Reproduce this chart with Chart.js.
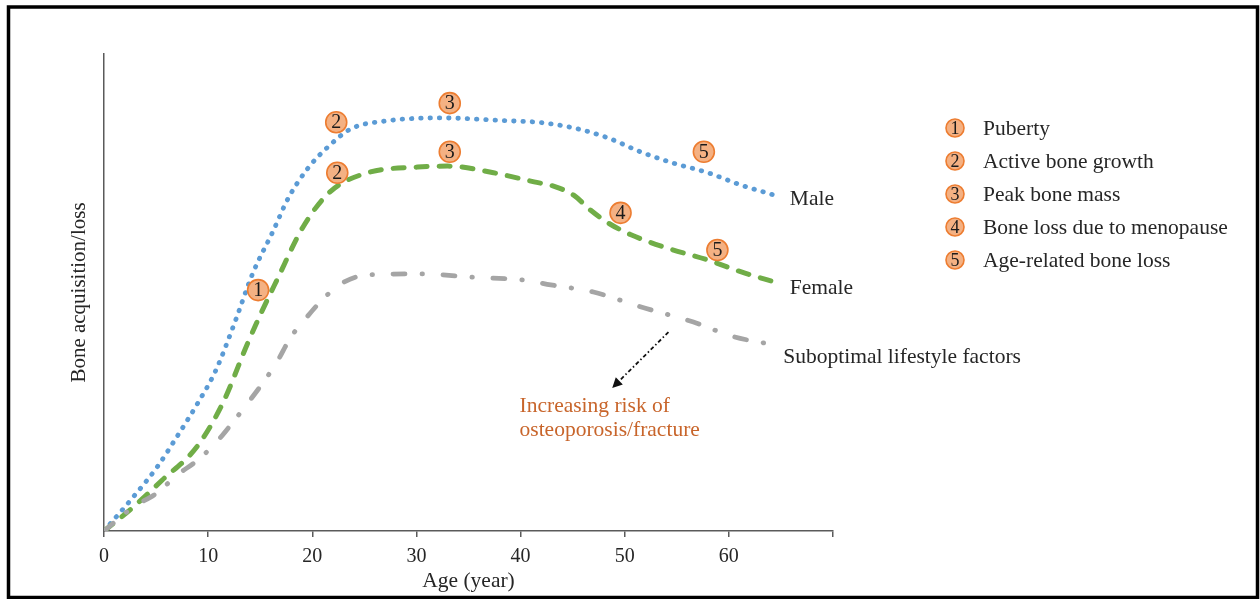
<!DOCTYPE html>
<html>
<head>
<meta charset="utf-8">
<script src="https://cdn.jsdelivr.net/npm/chart.js@4"></script>
<style>
html,body{margin:0;padding:0;background:#fff;}
#wrap{width:1260px;height:599px;position:relative;}
</style>
</head>
<body>
<div id="wrap"><canvas id="c" width="1260" height="599"></canvas></div>
<script>
// ---- data ----
const xTickValues = [0, 10, 20, 30, 40, 50, 60, 70];

const maleAge   = [0, 2.8, 5.1, 7.1, 9.0, 10.7, 12.4, 14.3, 16.2, 17.7, 19.6, 21.5, 23.7, 27.2, 32.3, 38.8, 41.6, 45.1, 48.4, 51.5, 54.7, 58.0, 61.2, 64.7];
const maleValue = [0, 7.1, 13.4, 20.1, 26.8, 33.5, 42.8, 54.1, 62.7, 69.8, 76.1, 80.5, 84.3, 86.0, 86.6, 86.0, 85.7, 84.5, 82.4, 79.5, 77.1, 75.1, 72.5, 70.2];

const femaleAge   = [0, 2.8, 5.6, 8.9, 11.4, 13.8, 15.0, 16.6, 19.1, 21.7, 25.3, 30.1, 33.0, 37.4, 41.3, 43.3, 45.1, 46.7, 48.4, 50.6, 54.1, 58.0, 61.2, 64.7];
const femaleValue = [0, 5.0, 10.7, 17.6, 26.8, 39.4, 45.3, 52.6, 63.7, 71.1, 75.1, 76.3, 76.5, 75.1, 73.2, 72.2, 70.4, 67.3, 64.6, 62.1, 59.3, 56.8, 54.3, 52.0];

const lifestyleAge   = [0, 2.8, 5.1, 7.0, 8.9, 10.7, 12.3, 13.8, 15.3, 16.6, 17.9, 19.5, 21.1, 22.9, 25.3, 30.4, 35.5, 40.3, 42.9, 47.0, 51.5, 56.6, 60.5, 63.4];
const lifestyleValue = [0, 5.0, 8.0, 11.7, 14.7, 18.4, 22.6, 26.8, 31.2, 35.4, 40.5, 44.9, 48.8, 52.0, 53.7, 53.9, 53.2, 52.6, 51.6, 50.1, 47.0, 43.8, 40.7, 39.4];

const seriesNames = ['Male', 'Female', 'Suboptimal lifestyle factors'];

const markerAge    = [14.8, 22.3, 22.4, 33.2, 33.2, 49.6, 57.6, 58.9];
const markerValue  = [50.5, 85.7, 75.1, 89.7, 79.5, 66.7, 79.5, 58.9];
const markerNumber = [1, 2, 2, 3, 3, 4, 5, 5];

const legendNumbers = [1, 2, 3, 4, 5];
const legendTexts = ['Puberty', 'Active bone growth', 'Peak bone mass', 'Bone loss due to menopause', 'Age-related bone loss'];

const riskLines = ['Increasing risk of', 'osteoporosis/fracture'];
const riskArrowFrom = [54.2, 41.7];
const riskArrowTo   = [48.8, 30.0];
const riskTextAt    = [39.9, 26.2];

// ---- build ----
const pts = (xs, ys) => xs.map((v, i) => ({x: v, y: ys[i]}));
const SERIF = '"Liberation Serif", "Times New Roman", serif';
const TEXT = '#262626';
const AXIS = '#5a5a5a';
const LABEL_SIZE = 21.5;

const overlay = {
  id: 'overlay',
  afterDraw(chart) {
    const {ctx, scales: {x, y}} = chart;
    ctx.save();
    // frame
    ctx.strokeStyle = '#000';
    ctx.lineWidth = 3.5;
    ctx.setLineDash([]);
    ctx.strokeRect(8.5, 7, 1249, 590.5);

    // marker numbers
    ctx.fillStyle = '#1a1a1a';
    ctx.textAlign = 'center';
    ctx.textBaseline = 'middle';
    ctx.font = '20px ' + SERIF;
    markerNumber.forEach((n, i) => {
      ctx.fillText(String(n), x.getPixelForValue(markerAge[i]), y.getPixelForValue(markerValue[i]) + 1);
    });

    // series end labels
    ctx.font = LABEL_SIZE + 'px ' + SERIF;
    ctx.textAlign = 'left';
    ctx.fillStyle = TEXT;
    const ends = [
      [maleAge, maleValue, 12, 3],
      [femaleAge, femaleValue, 12, 5],
      [lifestyleAge, lifestyleValue, 19, 14]
    ];
    ends.forEach((e, i) => {
      const xs = e[0], ys = e[1];
      const px = x.getPixelForValue(xs[xs.length - 1]);
      const py = y.getPixelForValue(ys[ys.length - 1]);
      ctx.fillText(seriesNames[i], px + e[2], py + e[3]);
    });

    // legend
    legendNumbers.forEach((n, i) => {
      const cy = 128 + i * 33;
      ctx.beginPath();
      ctx.arc(955, cy, 9, 0, Math.PI * 2);
      ctx.fillStyle = '#F4B183';
      ctx.fill();
      ctx.lineWidth = 1.6;
      ctx.strokeStyle = '#ED7D31';
      ctx.stroke();
      ctx.fillStyle = '#1a1a1a';
      ctx.textAlign = 'center';
      ctx.font = '18px ' + SERIF;
      ctx.fillText(String(n), 955, cy + 1);
      ctx.textAlign = 'left';
      ctx.fillStyle = TEXT;
      ctx.font = LABEL_SIZE + 'px ' + SERIF;
      ctx.fillText(legendTexts[i], 983, cy + 1);
    });

    // arrow
    const ax1 = x.getPixelForValue(riskArrowFrom[0]), ay1 = y.getPixelForValue(riskArrowFrom[1]);
    const ax2 = x.getPixelForValue(riskArrowTo[0]),   ay2 = y.getPixelForValue(riskArrowTo[1]);
    const ang = Math.atan2(ay2 - ay1, ax2 - ax1);
    const headLen = 10;
    const bx = ax2 - Math.cos(ang) * headLen, by = ay2 - Math.sin(ang) * headLen;
    ctx.strokeStyle = '#111';
    ctx.lineWidth = 1.8;
    ctx.setLineDash([4, 2.5, 1.5, 2.5]);
    ctx.beginPath();
    ctx.moveTo(ax1, ay1);
    ctx.lineTo(bx, by);
    ctx.stroke();
    ctx.setLineDash([]);
    ctx.fillStyle = '#111';
    ctx.beginPath();
    ctx.moveTo(ax2, ay2);
    ctx.lineTo(bx + Math.cos(ang + Math.PI / 2) * 5, by + Math.sin(ang + Math.PI / 2) * 5);
    ctx.lineTo(bx + Math.cos(ang - Math.PI / 2) * 5, by + Math.sin(ang - Math.PI / 2) * 5);
    ctx.closePath();
    ctx.fill();

    // risk text
    ctx.fillStyle = '#C8652B';
    ctx.font = LABEL_SIZE + 'px ' + SERIF;
    ctx.textAlign = 'left';
    const tx = x.getPixelForValue(riskTextAt[0]), ty = y.getPixelForValue(riskTextAt[1]);
    riskLines.forEach((t, i) => ctx.fillText(t, tx, ty + i * 24));
    ctx.restore();
  }
};

new Chart(document.getElementById('c'), {
  type: 'line',
  data: {
    datasets: [
      {
        label: 'Markers',
        data: pts(markerAge, markerValue),
        showLine: false,
        pointRadius: 10.5,
        pointBackgroundColor: '#F4B183',
        pointBorderColor: '#ED7D31',
        pointBorderWidth: 1.6,
        order: 0
      },
      {
        label: seriesNames[0],
        data: pts(maleAge, maleValue),
        borderColor: '#5B9BD5',
        borderWidth: 4.8,
        borderDash: [0.5, 8.8],
        borderCapStyle: 'round',
        cubicInterpolationMode: 'monotone',
        pointRadius: 0,
        fill: false,
        order: 3
      },
      {
        label: seriesNames[1],
        data: pts(femaleAge, femaleValue),
        borderColor: '#70AD47',
        borderWidth: 5,
        borderDash: [11, 12],
        borderCapStyle: 'round',
        cubicInterpolationMode: 'monotone',
        pointRadius: 0,
        fill: false,
        order: 2
      },
      {
        label: seriesNames[2],
        data: pts(lifestyleAge, lifestyleValue),
        borderColor: '#A5A5A5',
        borderWidth: 4.8,
        borderDash: [12, 17, 0.5, 20.5],
        borderCapStyle: 'round',
        cubicInterpolationMode: 'monotone',
        pointRadius: 0,
        fill: false,
        order: 1
      }
    ]
  },
  options: {
    responsive: false,
    animation: false,
    layout: {padding: {left: 0, right: 427, top: 54, bottom: 0}},
    plugins: {legend: {display: false}, tooltip: {enabled: false}},
    scales: {
      x: {
        type: 'linear',
        min: 0,
        max: 70,
        afterBuildTicks: s => { s.ticks = xTickValues.map(v => ({value: v})); },
        afterFit: s => { s.height = 68; },
        ticks: {
          callback: v => (v === 70 ? '' : v),
          font: {family: SERIF, size: 20},
          color: TEXT,
          padding: 8,
          maxRotation: 0
        },
        grid: {drawOnChartArea: false, drawTicks: true, tickLength: 6, color: AXIS, lineWidth: 1.5},
        border: {display: true, color: AXIS, width: 1.5},
        title: {display: true, text: 'Age (year)', font: {family: SERIF, size: LABEL_SIZE}, color: TEXT, padding: {top: 0, bottom: 5}}
      },
      y: {
        type: 'linear',
        min: 0,
        max: 100,
        afterFit: s => { s.width = 104; },
        ticks: {display: false},
        grid: {display: false, drawTicks: false},
        border: {display: true, color: AXIS, width: 1.5},
        title: {display: true, text: 'Bone acquisition/loss', font: {family: SERIF, size: 21}, color: TEXT, padding: {top: 67, bottom: 0}}
      }
    }
  },
  plugins: [overlay]
});
</script>
</body>
</html>
